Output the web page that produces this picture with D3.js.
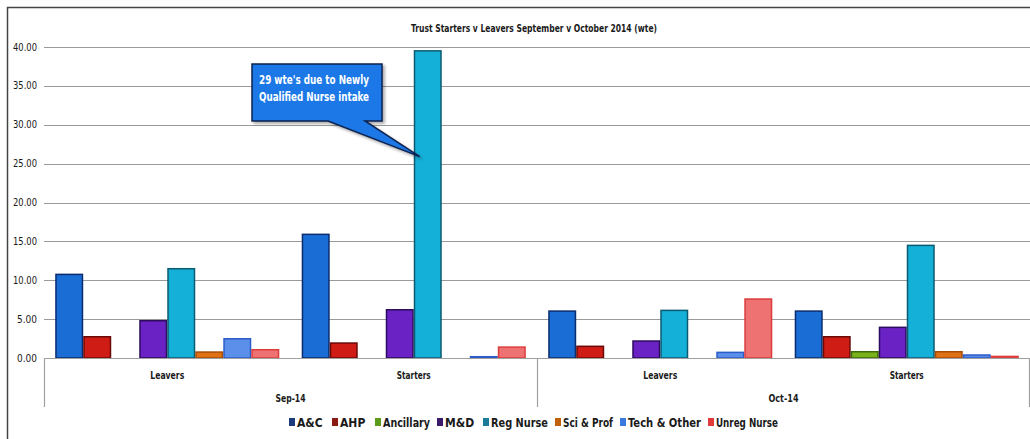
<!DOCTYPE html>
<html lang="en">
<head>
<meta charset="UTF-8">
<title>Trust Starters v Leavers</title>
<script src="https://d3js.org/d3.v7.min.js"></script>
<style>
  body { margin: 0; background: #fff; }
  text { font-family: "Liberation Sans Narrow", "DejaVu Sans Condensed", sans-serif; fill: #1a1a1a; }
</style>
</head>
<body>
<script>
// data
var periods = ["Sep-14", "Oct-14"];
var types = ["Leavers", "Starters"];
var series = ["A&C", "AHP", "Ancillary", "M&D", "Reg Nurse", "Sci & Prof", "Tech & Other", "Unreg Nurse"];
var sepLeavers  = [10.85, 2.83, 0,    4.89, 11.58, 0.86, 2.57, 1.16];
var sepStarters = [16.0,  2.02, 0,    6.30, 39.6,  0,    0.26, 1.50];
var octLeavers  = [6.13,  1.60, 0,    2.28, 6.22,  0,    0.82, 7.68];
var octStarters = [6.13,  2.83, 0.90, 4.04, 14.58, 0.90, 0.48, 0.30];
var yTicks = [0, 5, 10, 15, 20, 25, 30, 35, 40];
var note = ["29 wte's due to Newly", "Qualified Nurse intake"];

var fills   = ["#1a6dd4", "#cf1c14", "#79b21a", "#6a22c4", "#15b0d8", "#e07014", "#5b8fea", "#ee7272"];
var strokes = ["#0b2c6e", "#6a0a08", "#3e6a0a", "#2c0c5e", "#0b5a72", "#a54c08", "#2c5cc8", "#dc3c3c"];
var keyCols = ["#1b3b7c", "#8a1a14", "#5c9a1a", "#3b1a6c", "#1a7a9a", "#c0600a", "#3a7ae0", "#e03a3a"];

var groups = [
  {period: periods[0], type: types[0], vals: sepLeavers},
  {period: periods[0], type: types[1], vals: sepStarters},
  {period: periods[1], type: types[0], vals: octLeavers},
  {period: periods[1], type: types[1], vals: octStarters}
];

var W = 1030, H = 439;
var pLeft = 44, pRight = 1030, pTop = 47, pBase = 358;

// squeeze text into a width (the original uses a narrow font)
function fit(sel, w) {
  sel.each(function(){
    if (this.getComputedTextLength() > w) {
      d3.select(this).attr("textLength", w).attr("lengthAdjust", "spacingAndGlyphs");
    }
  });
}

var svg = d3.select("body").append("svg")
  .attr("width", W).attr("height", H);

var defs = svg.append("defs");
var f = defs.append("filter").attr("id", "sh").attr("x", "-20%").attr("y", "-20%").attr("width", "150%").attr("height", "150%");
f.append("feDropShadow").attr("dx", 2).attr("dy", 2).attr("stdDeviation", 1.5).attr("flood-color", "#000").attr("flood-opacity", 0.35);

// frame
svg.append("path").attr("d", "M7.5," + H + "V7.5H" + W)
  .attr("fill", "none").attr("stroke", "#444").attr("stroke-width", 1.5);

var y = d3.scaleLinear().domain([0, 40]).range([pBase, pTop]);
var x0 = d3.scaleBand().domain(d3.range(groups.length)).range([pLeft, pRight]);
var x1 = d3.scaleBand().domain(series).range([0, x0.bandwidth()]).paddingOuter(0.4);

// grid
svg.append("g").selectAll("line").data(yTicks.filter(function(d){ return d > 0; })).enter()
  .append("line")
  .attr("x1", pLeft).attr("x2", pRight)
  .attr("y1", function(d){ return Math.round(y(d)) + 0.5; })
  .attr("y2", function(d){ return Math.round(y(d)) + 0.5; })
  .attr("stroke", "#9a9a9a").attr("stroke-width", 1.2);

svg.append("g").selectAll("text").data(yTicks).enter()
  .append("text")
  .attr("x", 37).attr("y", function(d){ return y(d) + 3.5; })
  .attr("text-anchor", "end").attr("font-size", 10)
  .text(function(d){ return d.toFixed(2); })
  .call(fit, 24);

// bars
var g = svg.append("g").selectAll("g").data(groups).enter()
  .append("g").attr("transform", function(d, i){ return "translate(" + x0(i) + ",0)"; });

g.selectAll("rect").data(function(d){ return d.vals.map(function(v, k){ return {k: k, v: v}; }); })
  .enter().filter(function(d){ return d.v > 0; })
  .append("rect")
  .attr("x", function(d){ return x1(series[d.k]) + 0.75; })
  .attr("width", x1.bandwidth() - 1.5)
  .attr("y", function(d){ return y(d.v) + 0.75; })
  .attr("height", function(d){ return Math.max(pBase - y(d.v) - 0.75, 1); })
  .attr("fill", function(d){ return fills[d.k]; })
  .attr("stroke", function(d){ return strokes[d.k]; })
  .attr("stroke-width", 1.5);

// x axis box
var ax = svg.append("g").attr("stroke", "#a0a0a0").attr("stroke-width", 1.2);
ax.append("line").attr("x1", pLeft).attr("x2", pRight).attr("y1", pBase + 0.5).attr("y2", pBase + 0.5);
[pLeft, x0(2), pRight - 1].forEach(function(xx){
  ax.append("line").attr("x1", xx + 0.5).attr("x2", xx + 0.5).attr("y1", pBase).attr("y2", 407);
});

svg.append("g").selectAll("text").data(groups).enter()
  .append("text")
  .attr("x", function(d, i){ return x0(i) + x0.bandwidth() / 2; })
  .attr("y", 379).attr("text-anchor", "middle")
  .attr("font-size", 10.5).attr("font-weight", "bold")
  .text(function(d){ return d.type; })
  .call(fit, 34);

svg.append("g").selectAll("text").data(periods).enter()
  .append("text")
  .attr("x", function(d, i){ return x0(i * 2) + x0.bandwidth(); })
  .attr("y", 402).attr("text-anchor", "middle")
  .attr("font-size", 10.5).attr("font-weight", "bold")
  .text(function(d){ return d; })
  .call(fit, 30);

// title
svg.append("text").attr("x", 534).attr("y", 32).attr("text-anchor", "middle")
  .attr("font-size", 10.5).attr("font-weight", "bold")
  .text("Trust Starters v Leavers September v October 2014 (wte)")
  .call(fit, 246);

// legend
var legX = [289, 332, 375, 437, 483, 555, 620, 708];
var lg = svg.append("g").selectAll("g").data(series).enter()
  .append("g").attr("transform", function(d, i){ return "translate(" + legX[i] + ",422)"; });
lg.append("rect").attr("x", 0).attr("y", -4).attr("width", 6).attr("height", 8)
  .attr("fill", function(d, i){ return keyCols[i]; });
lg.append("text").attr("x", 8).attr("y", 4.5)
  .attr("font-size", 12).attr("font-weight", "bold")
  .text(function(d){ return d; })
  .each(function(d, i){
    var room = (i < legX.length - 1 ? legX[i + 1] - legX[i] : 77) - 15;
    d3.select(this).call(fit, room);
  });

// callout
var bx = x0(1) + x1("Reg Nurse") + 6, by = y(25.9);
var c = svg.append("g");
c.append("path")
  .attr("d", "M252,64H382V121H365L" + bx + "," + by + "L328,121H252Z")
  .attr("fill", "#1f78e6").attr("stroke", "#0a2450").attr("stroke-width", 1.5)
  .attr("filter", "url(#sh)");
c.selectAll("text").data(note).enter()
  .append("text")
  .attr("x", 259).attr("y", function(d, i){ return 84 + i * 17; })
  .attr("font-size", 13).attr("font-weight", "bold")
  .style("fill", "#fff")
  .text(function(d){ return d; })
  .call(fit, 110);
</script>
</body>
</html>
